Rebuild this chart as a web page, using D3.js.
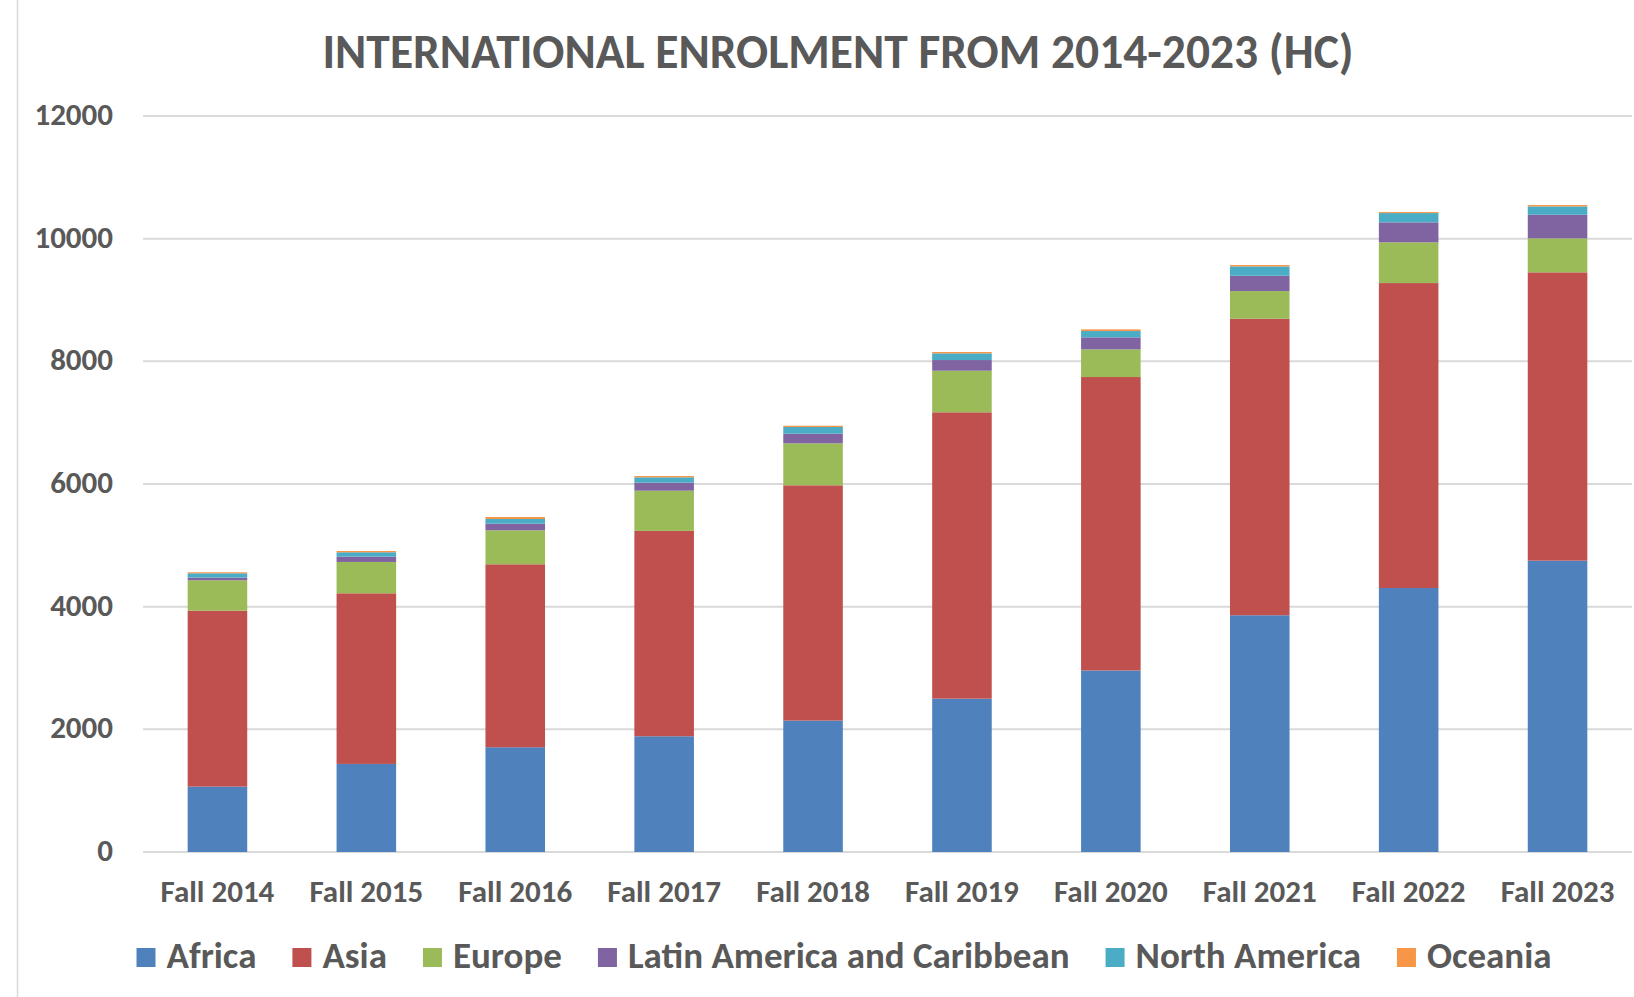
<!DOCTYPE html>
<html>
<head>
<meta charset="utf-8">
<script src="https://cdn.jsdelivr.net/npm/d3@7"></script>
<style>
  html, body { margin: 0; padding: 0; background: #fff; }
  svg text { font-family: Carlito, Calibri, Lato, sans-serif; font-weight: bold; fill: #595959; }
</style>
</head>
<body>
<svg id="chart"></svg>
<script>
var years = ['Fall 2014', 'Fall 2015', 'Fall 2016', 'Fall 2017', 'Fall 2018', 'Fall 2019', 'Fall 2020', 'Fall 2021', 'Fall 2022', 'Fall 2023'];
var regions = ['Africa', 'Asia', 'Europe', 'Latin America and Caribbean', 'North America', 'Oceania'];
var colors = ['#4f81bd', '#c0504d', '#9bbb59', '#8064a2', '#4bacc6', '#f79646'];

var africa = [1066, 1436, 1708, 1887, 2142, 2500, 2960, 3860, 4304, 4750];
var asia = [2869, 2782, 2983, 3348, 3837, 4669, 4784, 4834, 4972, 4701];
var europe = [495, 511, 554, 656, 684, 678, 451, 452, 664, 554];
var latinAmerica = [43, 86, 108, 130, 157, 174, 196, 249, 326, 385];
var northAmerica = [71, 72, 77, 88, 109, 109, 103, 153, 151, 136];
var oceania = [17, 21, 32, 21, 21, 22, 27, 22, 17, 22];

var yTicks = [0, 2000, 4000, 6000, 8000, 10000, 12000];

var svgWidth = 1634;
var svgHeight = 997;
var margin = {top: 116, right: 2, bottom: 145, left: 143};
var width = svgWidth - margin.left - margin.right;
var height = svgHeight - margin.top - margin.bottom;

var table = years.map((y, i) => ({
    year: y,
    'Africa': africa[i],
    'Asia': asia[i],
    'Europe': europe[i],
    'Latin America and Caribbean': latinAmerica[i],
    'North America': northAmerica[i],
    'Oceania': oceania[i]
}));

var stacked = d3.stack().keys(regions)(table);

var x = d3.scaleBand().domain(years).range([0, width]).paddingInner(0.6).paddingOuter(0.3);
var y = d3.scaleLinear().domain([0, 12000]).range([height, 0]);
var color = d3.scaleOrdinal().domain(regions).range(colors);

var svg = d3.select('#chart')
    .attr('width', svgWidth)
    .attr('height', svgHeight);

// chart border on the left edge
svg.append('line')
    .attr('x1', 17.5).attr('x2', 17.5)
    .attr('y1', 0).attr('y2', svgHeight)
    .attr('stroke', '#d9d9d9')
    .attr('stroke-width', 1.5);

// title
svg.append('text')
    .attr('x', 838)
    .attr('y', 68)
    .attr('text-anchor', 'middle')
    .style('font-size', '47.5px')
    .text('INTERNATIONAL ENROLMENT FROM 2014-2023 (HC)');

var g = svg.append('g')
    .attr('transform', 'translate(' + margin.left + ',' + margin.top + ')');

// gridlines
g.append('g')
    .selectAll('line')
    .data(yTicks)
    .join('line')
    .attr('x1', 0)
    .attr('x2', width)
    .attr('y1', (d) => y(d))
    .attr('y2', (d) => y(d))
    .attr('stroke', '#d9d9d9')
    .attr('stroke-width', 2);

// y labels
g.append('g')
    .selectAll('text')
    .data(yTicks)
    .join('text')
    .attr('x', -30)
    .attr('y', (d) => y(d) + 9)
    .attr('text-anchor', 'end')
    .style('font-size', '31px')
    .text((d) => d);

// bars
g.append('g')
    .selectAll('g')
    .data(stacked)
    .join('g')
    .attr('fill', (d) => color(d.key))
    .selectAll('rect')
    .data((d) => d)
    .join('rect')
    .attr('x', (d) => x(d.data.year))
    .attr('width', x.bandwidth())
    .attr('y', (d) => y(d[1]))
    .attr('height', (d) => y(d[0]) - y(d[1]));

// x labels
g.append('g')
    .selectAll('text')
    .data(years)
    .join('text')
    .attr('x', (d) => x(d) + x.bandwidth() / 2)
    .attr('y', height + 50)
    .attr('text-anchor', 'middle')
    .style('font-size', '31px')
    .text((d) => d);

// legend
var legend = svg.append('g').attr('class', 'legend');
var lx = 136.5;
regions.forEach((r, i) => {
    legend.append('rect')
        .attr('x', lx)
        .attr('y', 948)
        .attr('width', 19)
        .attr('height', 19)
        .attr('fill', color(r));
    var t = legend.append('text')
        .attr('x', lx + 30)
        .attr('y', 968)
        .style('font-size', '37px')
        .text(r);
    lx = lx + 30 + t.node().getComputedTextLength() + 36;
});
</script>
</body>
</html>
